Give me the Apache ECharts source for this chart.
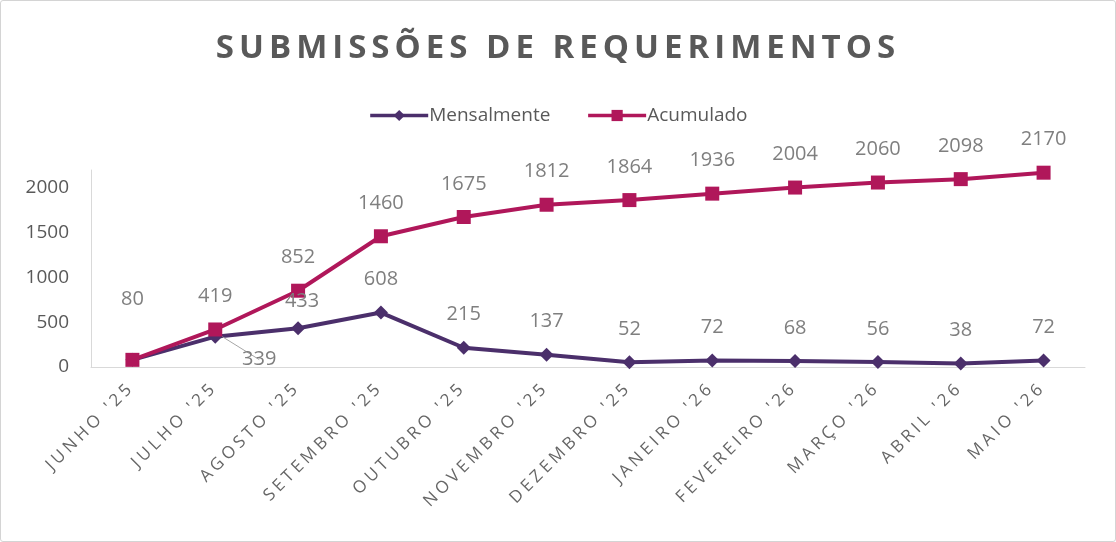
<!DOCTYPE html>
<html>
<head>
<meta charset="utf-8">
<script src="https://cdn.jsdelivr.net/npm/echarts@6.0.0/dist/echarts.min.js"></script>
<style>
  html, body { margin: 0; padding: 0; background: #fff; }
  #main { width: 1116px; height: 542px; box-sizing: border-box; border: 1px solid #d4d4d4; border-radius: 3px; }
</style>
</head>
<body>
<div id="main"></div>
<script>
var months = ["JUNHO '25", "JULHO '25", "AGOSTO '25", "SETEMBRO '25", "OUTUBRO '25", "NOVEMBRO '25",
  "DEZEMBRO '25", "JANEIRO '26", "FEVEREIRO '26", "MARÇO '26", "ABRIL '26", "MAIO '26"];
var mensalmente = [80, 339, 433, 608, 215, 137, 52, 72, 68, 56, 38, 72];
var acumulado = [80, 419, 852, 1460, 1675, 1812, 1864, 1936, 2004, 2060, 2098, 2170];

var purple = '#4b2f6b';
var crimson = '#b0175a';
var labelGrey = '#7f7f7f';

// the title and the month labels are letter-spaced; echarts has no option for it,
// so the canvas letterSpacing is picked by font size (33px title, 17px months)
var spacing = { '33px': '5px', '17px': '3.8px' };
var nativeFillText = CanvasRenderingContext2D.prototype.fillText;
CanvasRenderingContext2D.prototype.fillText = function (text, x, y, maxWidth) {
  var m = /(\d+(?:\.\d+)?px)/.exec(this.font);
  this.letterSpacing = (m && spacing[m[1]]) || '0px';
  if (arguments.length > 3) return nativeFillText.call(this, text, x, y, maxWidth);
  return nativeFillText.call(this, text, x, y);
};

var chartDom = document.getElementById('main');
var myChart = echarts.init(chartDom);

var labelStyle = {
  show: true,
  position: 'top',
  distance: 16,
  color: labelGrey,
  fontSize: 20,
  fontFamily: 'Open Sans'
};

var mensalData = mensalmente.map(function (v, i) {
  if (i === 0) return { value: v, label: { show: false } };
  if (i === 1) return {
    value: v,
    label: { position: 'bottom', distance: 6, offset: [44, 0] },
    labelLine: { show: true, lineStyle: { color: '#a6a6a6', width: 1 } }
  };
  if (i === 2) return { value: v, label: { offset: [4, 6] } };
  return v;
});
var acumData = acumulado.map(function (v, i) {
  if (i === 0) return { value: v, label: { distance: 44 } };
  return v;
});

var option = {
  animation: false,
  textStyle: { fontFamily: 'Open Sans' },
  title: {
    text: 'SUBMISSÕES DE REQUERIMENTOS',
    left: 'center',
    top: 26,
    textStyle: { color: '#595959', fontSize: 33, fontWeight: 'bold', fontFamily: 'Open Sans' }
  },
  legend: {
    top: 100,
    left: 'center',
    itemGap: 36,
    itemWidth: 58,
    itemHeight: 14,
    lineStyle: { width: 3.5 },
    textStyle: { color: '#595959', fontSize: 19, padding: [0, 0, 0, -4] },
    data: ['Mensalmente', 'Acumulado']
  },
  grid: { left: 90, right: 30, top: 169, bottom: 174 },
  xAxis: {
    type: 'category',
    data: months,
    boundaryGap: true,
    axisLine: { lineStyle: { color: '#d9d9d9' } },
    axisTick: { show: false },
    axisLabel: {
      rotate: 45,
      margin: 17,
      padding: [0, 1, 0, 0],
      interval: 0,
      color: '#666666',
      fontSize: 17,
      fontFamily: 'Open Sans'
    }
  },
  yAxis: {
    type: 'value',
    min: 0,
    max: 2200,
    interval: 500,
    splitLine: { show: false },
    axisLine: { show: true, lineStyle: { color: '#d9d9d9' } },
    axisTick: { show: false },
    axisLabel: {
      showMaxLabel: false,
      margin: 22,
      color: '#595959',
      fontSize: 19,
      fontFamily: 'Open Sans',
      formatter: function (v) { return String(v); }
    }
  },
  series: [
    {
      name: 'Mensalmente',
      type: 'line',
      data: mensalData,
      symbol: 'diamond',
      symbolSize: 14,
      color: purple,
      lineStyle: { width: 4, color: purple },
      itemStyle: { color: purple },
      label: labelStyle,
      labelLine: { show: false }
    },
    {
      name: 'Acumulado',
      type: 'line',
      data: acumData,
      symbol: 'rect',
      symbolSize: 14,
      color: crimson,
      lineStyle: { width: 4, color: crimson },
      itemStyle: { color: crimson },
      label: labelStyle
    }
  ]
};

myChart.setOption(option);
</script>
</body>
</html>
